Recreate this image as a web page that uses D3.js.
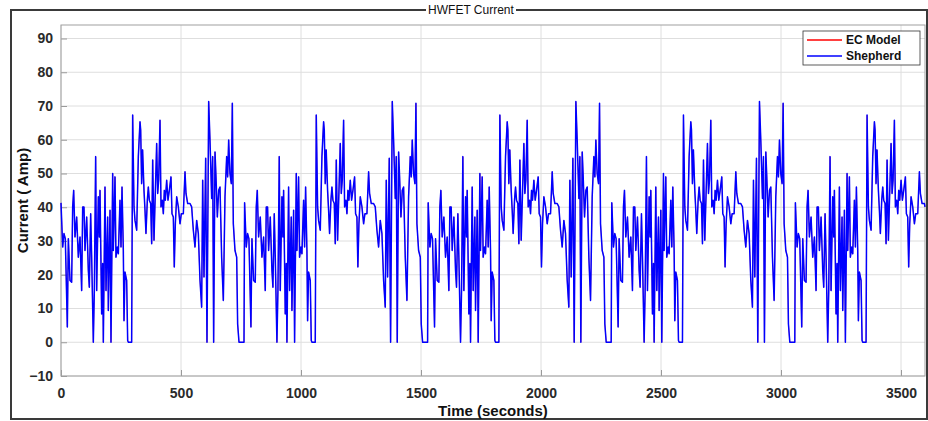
<!DOCTYPE html>
<html><head><meta charset="utf-8">
<script src="https://cdn.jsdelivr.net/npm/d3@7"></script>
<style>body{margin:0;background:#fff}svg{display:block}</style>
</head><body>
<svg id="c" width="928" height="421"></svg>
<script>
// One HWFET drive cycle; the test runs it back to back.
const cyclePeriod = 765;
const cycleTime = [0,7,12.5,18,26.4,30.6,37.5,44.4,48.6,52.8,58.3,65.3,72.2,79.2,86.1,90.3,95.8,100,107,113.9,118,123.6,127.8,134.7,138.9,144.4,148.6,155.6,159.7,162.5,169.4,173.6,176.4,183.3,187.5,194.4,197.2,204.2,208.3,215.3,218,225,229,234.7,238.9,245.8,250,254.2,259.7,262.5,266.7,273.6,277.8,280.6,294.4,298.6,304.2,308.3,315.3,322.2,329.2,332,336,340,345.8,350,354,359.7,363.9,368,373.6,377.8,382,387.5,398.6,402.8,407,412.5,416.7,422,426.4,430.6,434.7,440.3,445.8,451.4,458.3,462.5,468,472,476.4,482,488.9,495.8,501.4,509.7,516.7,520.8,527.8,537.5,544.4,551.4,558.3,565.3,572.2,579.2,586,590.3,595.8,602.8,608.3,615.3,620.8,627.8,632,636,641.7,645.8,651.4,657,662.5,669.4,676.4,683.3,690.3,694.4,698.6,704,709.7,713.9,718,725,732,736,741.7,762.5];
const cycleCurrent = [41.3,28.2,32.2,30.7,4.5,30.7,18.3,17.8,40.1,45,31.2,37.1,25.2,31.2,15.3,40.1,40.1,27.2,37.1,21.3,16.3,38.1,25.2,0,15.3,55,15.3,43.1,31.2,45,8.4,23.3,0,46,15.3,37.1,9.4,39.1,0,50,27.2,49,25.2,28.2,26.2,42.1,28.2,46,27.2,6.4,20.8,18.3,0.5,0,0,67.3,40.1,36.1,33.2,55,65.3,62.9,47,57,45,39.1,32.2,42.1,46,42.1,41.1,29.2,54,30.2,58.9,44.1,48,65.8,40.1,42.1,38.1,45,42.1,48,42.1,45,49,38.1,37.1,22.3,35.1,43.1,40.1,35.1,38.1,38.1,50.5,44.1,41.1,41.1,40.1,33.2,28.2,36.1,32.2,18.3,10.4,48,19.3,54.5,0,71.3,59.9,42.6,55,0,56.4,49,37.1,45,46,25.2,12.4,43.1,55,49,59.9,50,47,70.8,35.1,27.2,25.2,5.4,0,0];
const xTicks = [0,500,1000,1500,2000,2500,3000,3500];
const yTicks = [-10,0,10,20,30,40,50,60,70,80,90];
const seriesNames = ["EC Model","Shepherd"];
const seriesColors = ["#ff0000","#0000ff"];
const tEnd = 3600;

const data = [];
for (let k = 0; k * cyclePeriod <= tEnd; k++) {
  for (let i = 0; i < cycleTime.length; i++) {
    const t = k * cyclePeriod + cycleTime[i];
    if (t <= tEnd) data.push({t, v: cycleCurrent[i]});
  }
}
if (data[data.length-1].t < tEnd) {
  const k = Math.floor(tEnd / cyclePeriod);
  const off = tEnd - k * cyclePeriod;
  const j = cycleTime.findIndex(d => d > off);
  data.push({t: tEnd, v: cycleCurrent[j]});
}

const svg = d3.select("#c");
const L = 61, R = 925, T = 25, B = 376;
const x = d3.scaleLinear().domain([0, 3600]).range([L, R]);
const y = d3.scaleLinear().domain([-10, 94]).range([B, T]);
const font = "'Liberation Sans', Arial, Helvetica, sans-serif";

svg.append("rect").attr("width",928).attr("height",421).attr("fill","#fff");
svg.append("rect").attr("x",11).attr("y",10).attr("width",916).attr("height",409)
  .attr("fill","none").attr("stroke","#3a3a3a").attr("stroke-width",2);
svg.append("rect").attr("x",426).attr("y",3).attr("width",90).attr("height",14).attr("fill","#fff");
svg.append("text").attr("x",471).attr("y",14).attr("text-anchor","middle")
  .attr("font-family",font).attr("font-size",12).attr("fill","#111").text("HWFET Current");

svg.append("rect").attr("x",L).attr("y",T).attr("width",R-L).attr("height",B-T).attr("fill","#fff");

const g = svg.append("g");
g.selectAll("line.gx").data(xTicks).join("line").attr("class","gx")
  .attr("x1",d=>x(d)).attr("x2",d=>x(d)).attr("y1",T).attr("y2",B)
  .attr("stroke","#dedede").attr("stroke-width",1);
g.selectAll("line.gy").data(yTicks).join("line").attr("class","gy")
  .attr("x1",L).attr("x2",R).attr("y1",d=>y(d)).attr("y2",d=>y(d))
  .attr("stroke","#dedede").attr("stroke-width",1);

const xAxis = d3.axisBottom(x).tickValues(xTicks).tickFormat(d3.format("d")).tickSizeInner(-6).tickSizeOuter(0).tickPadding(12);
const yAxis = d3.axisLeft(y).tickValues(yTicks).tickFormat(d3.format("d")).tickSizeInner(-6).tickSizeOuter(0).tickPadding(8);
const gx = svg.append("g").attr("transform",`translate(0,${B})`).call(xAxis);
const gy = svg.append("g").attr("transform",`translate(${L},0)`).call(yAxis);
[gx, gy].forEach(a => {
  a.select(".domain").remove();
  a.selectAll(".tick line").attr("stroke","#9a9a9a");
  a.selectAll(".tick text").attr("font-family",font).attr("font-size",14)
    .attr("font-weight","bold").attr("fill","#2a2a2a");
});
svg.append("rect").attr("x",L).attr("y",T).attr("width",R-L).attr("height",B-T)
  .attr("fill","none").attr("stroke","#a0a0a0").attr("stroke-width",1);

const line = d3.line().x(d=>x(d.t)).y(d=>y(d.v));
seriesNames.forEach((n,i) => {
  svg.append("path").datum(data).attr("d",line).attr("fill","none")
    .attr("stroke",seriesColors[i]).attr("stroke-width",i===0 ? 0.5 : 1.5).attr("stroke-linejoin","round");
});

svg.append("text").attr("x",(L+R)/2).attr("y",416).attr("text-anchor","middle")
  .attr("font-family",font).attr("font-size",15).attr("font-weight","bold").attr("fill","#111")
  .text("Time (seconds)");
svg.append("text").attr("transform",`translate(28,${(T+B)/2}) rotate(-90)`).attr("text-anchor","middle")
  .attr("font-family",font).attr("font-size",15).attr("font-weight","bold").attr("fill","#111")
  .text("Current ( Amp)");

const lg = svg.append("g");
lg.append("rect").attr("x",803).attr("y",31).attr("width",117).attr("height",34)
  .attr("fill","#fff").attr("stroke","#333").attr("stroke-width",0.8);
seriesNames.forEach((n,i) => {
  const yy = 40 + i*16;
  lg.append("line").attr("x1",807).attr("x2",842).attr("y1",yy).attr("y2",yy)
    .attr("stroke",seriesColors[i]).attr("stroke-width",1.4);
  lg.append("text").attr("x",846).attr("y",yy+4).attr("font-family",font).attr("font-size",12)
    .attr("font-weight","bold").attr("fill","#111").text(n);
});
</script>
</body></html>
